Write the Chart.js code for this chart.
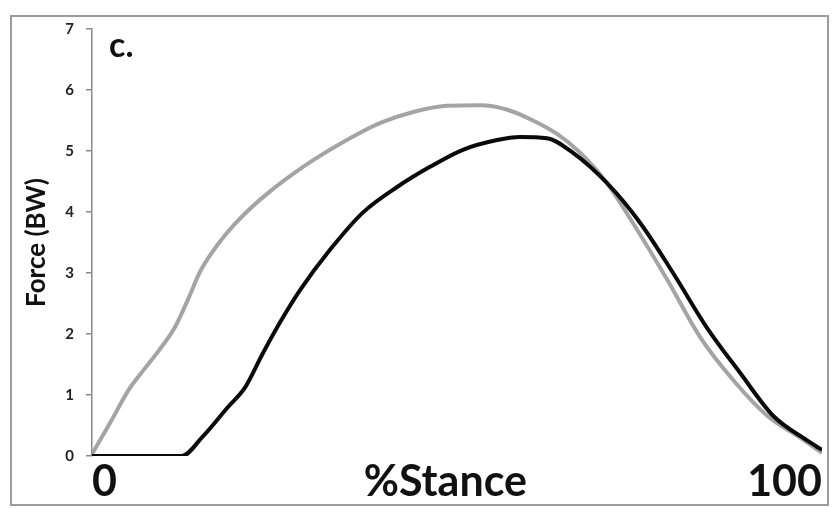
<!DOCTYPE html>
<html>
<head>
<meta charset="utf-8">
<title>Force (BW) vs %Stance</title>
<script src="https://cdn.jsdelivr.net/npm/chart.js@4.4.1/dist/chart.umd.min.js"></script>
<style>
  html, body { margin: 0; padding: 0; background: #fff; }
  #wrap { width: 833px; height: 508px; position: relative; }
</style>
</head>
<body>
<div id="wrap"><canvas id="force-chart"></canvas></div>
<script>
// Gray trace
const grayPct   = [0, 2.7, 5.0, 7.0, 9.1, 11.4, 13.2, 14.8, 16.4, 18.5, 21.0, 24.1, 27.5, 30.3, 34.9, 39.5, 44.0, 48.6, 53.2, 56.8, 60.4, 63.7, 66.8, 70.5, 74.1, 78.8, 83.3, 87.8, 92.5, 97.0, 100];
const grayForce = [0.03, 0.59, 1.08, 1.40, 1.72, 2.12, 2.58, 3.02, 3.33, 3.66, 3.98, 4.31, 4.62, 4.85, 5.18, 5.46, 5.64, 5.74, 5.75, 5.68, 5.50, 5.28, 4.98, 4.48, 3.82, 2.89, 1.95, 1.25, 0.66, 0.30, 0.05];

// Black trace
const blackPct   = [0, 12.3, 15.1, 18.6, 21.0, 23.3, 25.8, 28.5, 32.6, 37.1, 41.8, 46.3, 50.8, 55.5, 58.6, 62.3, 65.9, 70.5, 75.1, 79.6, 84.2, 88.8, 93.3, 97.9, 100];
const blackForce = [0, 0, 0.31, 0.80, 1.13, 1.66, 2.20, 2.72, 3.38, 3.99, 4.41, 4.74, 5.02, 5.18, 5.23, 5.21, 4.97, 4.48, 3.82, 3.00, 2.11, 1.36, 0.66, 0.26, 0.10];

// Axis labels
const xTickValues = [0, 48.4, 100];
const xTickLabels = ['0', '%Stance', '100'];
const yTitle = 'Force (BW)';
const panelLabel = 'c.';

const toPoints = (xs, ys) => xs.map((x, i) => ({ x: x, y: ys[i] }));

// outer frame + panel letter
const framePlugin = {
  id: 'framePlugin',
  afterDraw(chart) {
    const c = chart.ctx;
    c.save();
    c.strokeStyle = '#9c9c9c';
    c.lineWidth = 2;
    c.strokeRect(11, 16, 817, 489);
    c.fillStyle = '#111';
    c.font = 'bold 34px Lato';
    c.textBaseline = 'alphabetic';
    c.fillText(panelLabel, 109, 57);
    c.restore();
  }
};

const ctx = document.getElementById('force-chart');
new Chart(ctx, {
  type: 'line',
  data: {
    datasets: [
      {
        label: 'black',
        data: toPoints(blackPct, blackForce),
        borderColor: '#0a0a0a',
        borderWidth: 4,
        pointRadius: 0,
        cubicInterpolationMode: 'monotone'
      },
      {
        label: 'gray',
        data: toPoints(grayPct, grayForce),
        borderColor: '#a4a4a4',
        borderWidth: 4,
        pointRadius: 0,
        cubicInterpolationMode: 'monotone'
      }
    ]
  },
  options: {
    responsive: true,
    maintainAspectRatio: false,
    animation: false,
    layout: { padding: { left: 12, right: 11, top: 29, bottom: 0 } },
    plugins: {
      legend: { display: false },
      tooltip: { enabled: false }
    },
    scales: {
      x: {
        type: 'linear',
        min: 0,
        max: 100,
        afterFit: (scale) => { scale.height = 52; },
        afterBuildTicks: (scale) => {
          scale.ticks = xTickValues.map(v => ({ value: v }));
        },
        grid: { display: false },
        border: { display: false },
        ticks: {
          align: 'inner',
          maxRotation: 0,
          autoSkip: false,
          padding: -8,
          color: '#111',
          font: { family: 'Lato', size: 43, weight: 'bold' },
          callback: (value, index) => xTickLabels[index]
        }
      },
      y: {
        min: 0,
        max: 7,
        afterFit: (scale) => { scale.width = 80; },
        grid: {
          drawOnChartArea: false,
          drawTicks: true,
          tickLength: 6,
          color: '#8a8a8a',
          lineWidth: 1.5
        },
        border: { display: true, color: '#8a8a8a', width: 1.5 },
        ticks: {
          stepSize: 1,
          padding: 12,
          color: '#222',
          font: { family: 'Lato', size: 15, weight: 'bold' }
        },
        title: {
          display: true,
          text: yTitle,
          color: '#111',
          padding: { top: 9, bottom: 0 },
          font: { family: 'Lato', size: 26, weight: 'bold' }
        }
      }
    }
  },
  plugins: [framePlugin]
});
</script>
</body>
</html>
